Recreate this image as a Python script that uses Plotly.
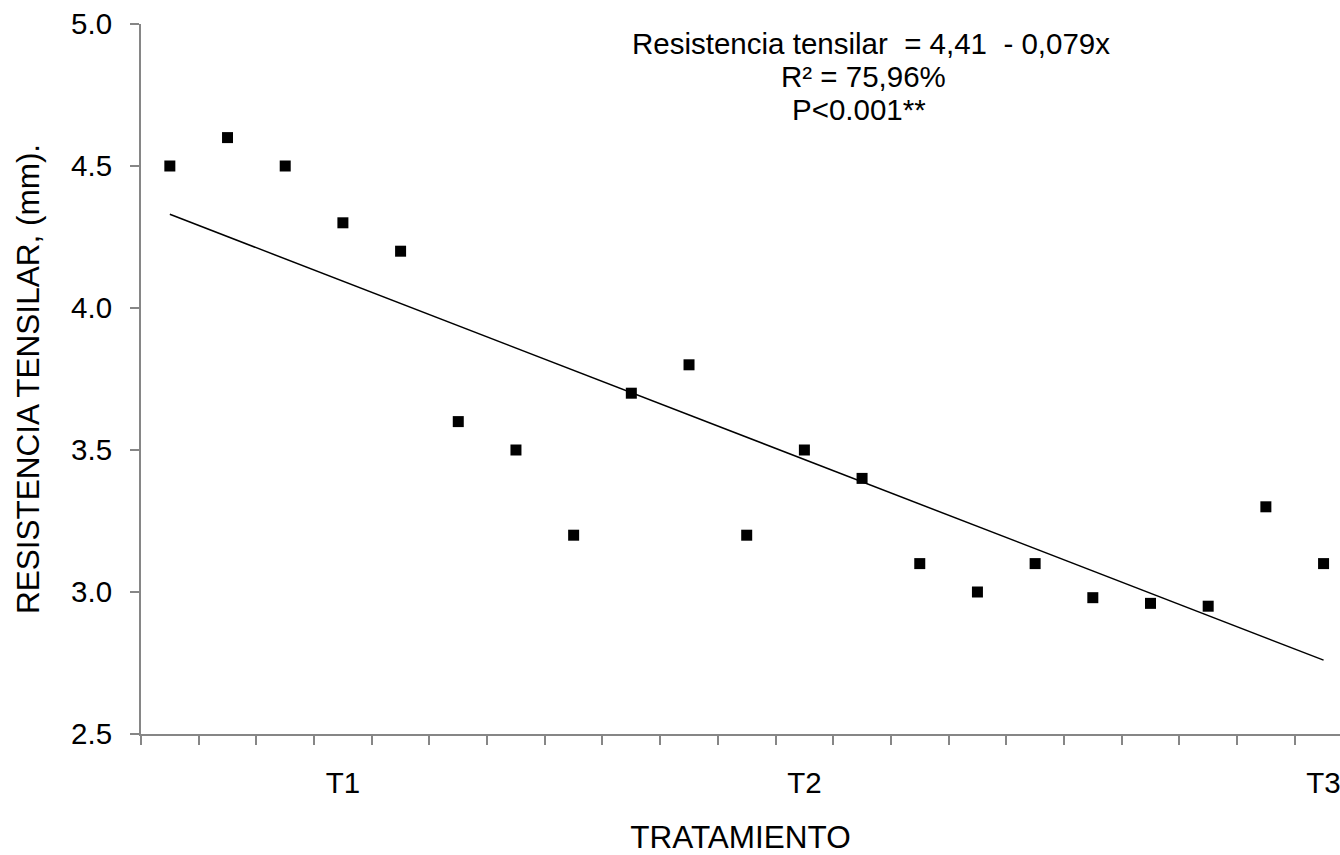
import plotly.graph_objects as go

# Data
tratamiento = list(range(1, 22))
resistencia = [4.5, 4.6, 4.5, 4.3, 4.2, 3.6, 3.5, 3.2, 3.7, 3.8, 3.2,
               3.5, 3.4, 3.1, 3.0, 3.1, 2.98, 2.96, 2.95, 3.3, 3.1]
trend_x = [1, 21]
trend_y = [4.33, 2.76]
tick_pos = [4, 12, 21]
tick_text = ["T1", "T2", "T3"]
boundaries = [i + 0.5 for i in range(0, 22)]
y_ticks = [2.5, 3.0, 3.5, 4.0, 4.5, 5.0]

FONT = "Liberation Sans, Arial, sans-serif"
AXIS_COLOR = "#868686"
FS = 29.5
FT = 31.5

fig = go.Figure()
fig.add_trace(go.Scatter(
    x=trend_x, y=trend_y, mode="lines",
    line=dict(color="black", width=1.5), showlegend=False, hoverinfo="skip"))
fig.add_trace(go.Scatter(
    x=tratamiento, y=resistencia, mode="markers",
    marker=dict(symbol="square", size=11, color="black"), showlegend=False))

fig.update_layout(
    width=1340, height=855,
    template="none",
    paper_bgcolor="white", plot_bgcolor="white",
    margin=dict(l=141, r=0, t=24, b=121, autoexpand=False),
    font=dict(family=FONT, size=FS, color="black"),
    xaxis=dict(
        range=[0.5, 21.285],
        tickmode="array", tickvals=tick_pos, ticktext=tick_text,
        ticks="", showgrid=False, zeroline=False,
        showline=True, linecolor=AXIS_COLOR, linewidth=2,
        tickfont=dict(family=FONT, size=FS, color="black"),
        ticklabelstandoff=22,
        ticklabeloverflow="allow",
        minor=dict(tickmode="array", tickvals=boundaries, ticks="outside",
                   ticklen=9, tickwidth=2, tickcolor=AXIS_COLOR, showgrid=False),
        title=dict(text="TRATAMIENTO", font=dict(family=FONT, size=FT, color="black"), standoff=30),
        automargin=False,
    ),
    yaxis=dict(
        range=[2.5, 5.0],
        tickmode="array", tickvals=y_ticks, tickformat=".1f",
        ticks="outside", ticklen=9, tickwidth=2, tickcolor=AXIS_COLOR,
        showgrid=False, zeroline=False,
        showline=True, linecolor=AXIS_COLOR, linewidth=2,
        tickfont=dict(family=FONT, size=FS, color="black"),
        ticklabelstandoff=12,
        title=dict(text="RESISTENCIA TENSILAR, (mm).", font=dict(family=FONT, size=FT, color="black"), standoff=22),
        automargin=False,
    ),
)

ann_lines = ["Resistencia tensilar  = 4,41  - 0,079x", "R² = 75,96%", "P<0.001**"]
ann_x = [13.16, 13.02, 12.95]
ann_y = [4.93, 4.815, 4.70]
for txt, xx, yy in zip(ann_lines, ann_x, ann_y):
    fig.add_annotation(x=xx, y=yy, xref="x", yref="y", text=txt, showarrow=False,
                       xanchor="center", yanchor="middle",
                       font=dict(family=FONT, size=FS, color="black"))

fig.write_html("out.html")
